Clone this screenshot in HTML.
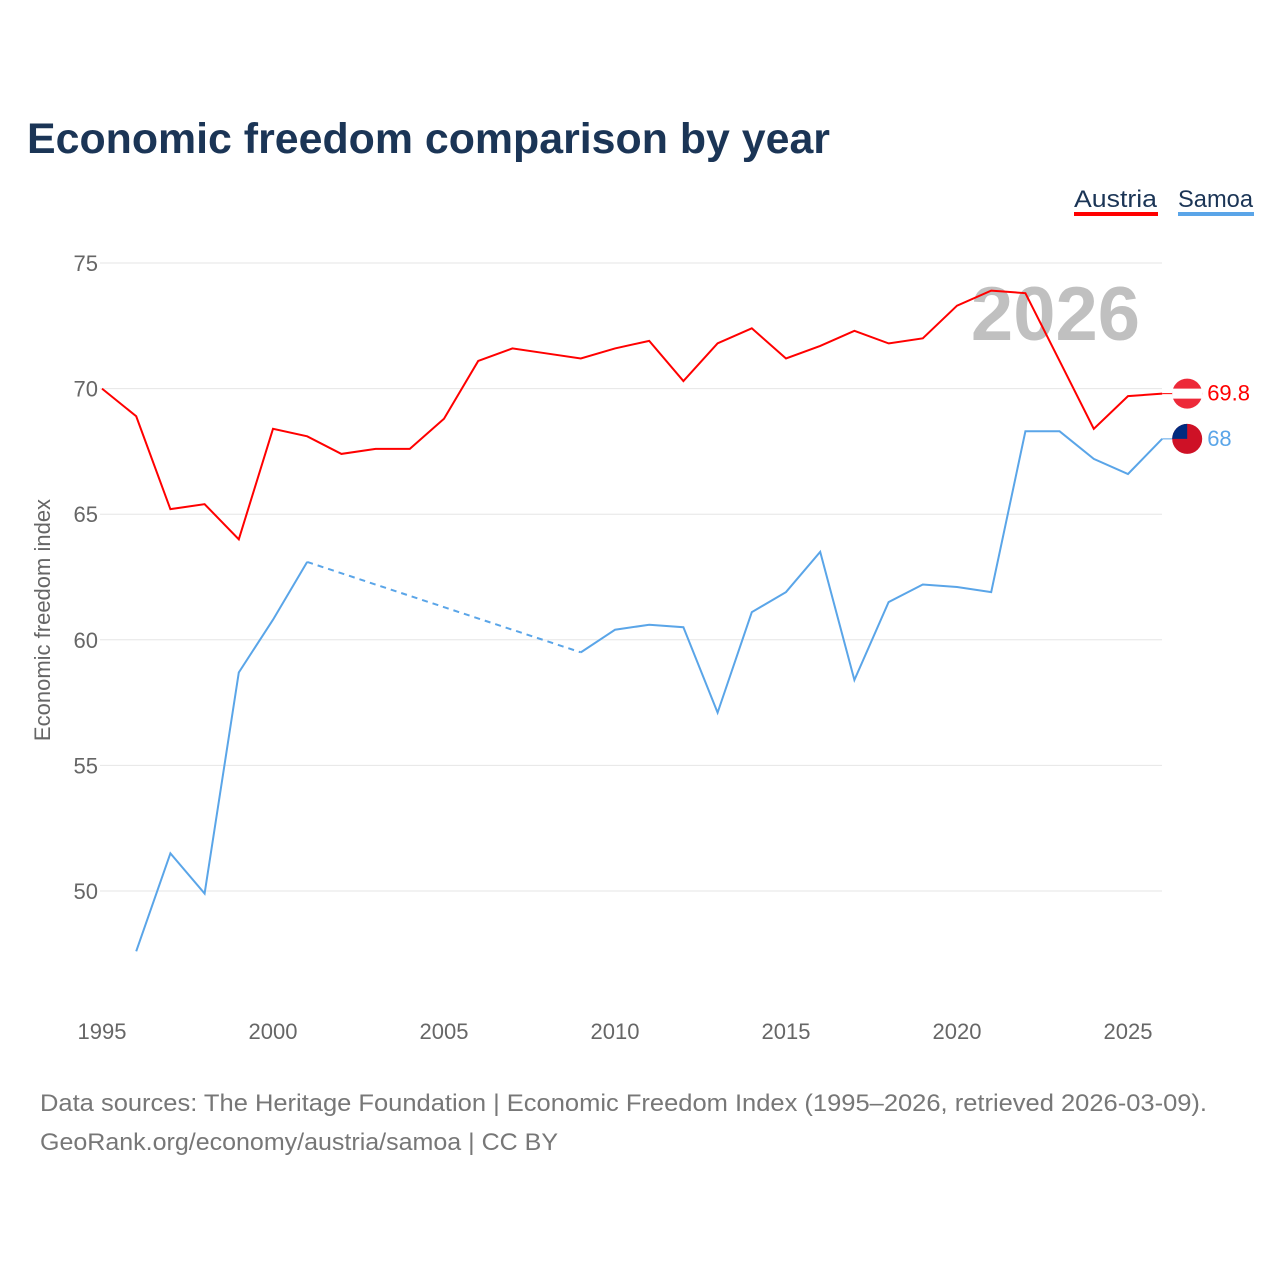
<!DOCTYPE html>
<html><head><meta charset="utf-8"><style>
body{margin:0;background:#fff;font-family:"Liberation Sans",sans-serif;}
svg text{font-family:"Liberation Sans",sans-serif;}
</style></head><body>
<svg width="1280" height="1280" viewBox="0 0 1280 1280">
<text x="27" y="153" font-size="43" font-weight="bold" fill="#1b3556" textLength="803" lengthAdjust="spacingAndGlyphs">Economic freedom comparison by year</text>
<g>
<text x="1074" y="207" font-size="24" fill="#1b3556" textLength="83" lengthAdjust="spacingAndGlyphs">Austria</text>
<rect x="1074" y="212" width="84" height="4" fill="#ff0000"/>
<text x="1178" y="207" font-size="24" fill="#1b3556" textLength="75" lengthAdjust="spacingAndGlyphs">Samoa</text>
<rect x="1178" y="212" width="76" height="4" fill="#5aa5e8"/>
</g>
<text x="1140" y="340" font-size="76" font-weight="bold" fill="#c0c0c0" text-anchor="end">2026</text>
<g id="grid"></g><g id="xt"></g><g id="lines"></g>
<text transform="translate(50,620) rotate(-90)" font-size="22" fill="#666" text-anchor="middle">Economic freedom index</text>
<text x="40" y="1111" font-size="24" fill="#777" textLength="1167" lengthAdjust="spacingAndGlyphs">Data sources: The Heritage Foundation | Economic Freedom Index (1995–2026, retrieved 2026-03-09).</text>
<text x="40" y="1150" font-size="24" fill="#777" textLength="518" lengthAdjust="spacingAndGlyphs">GeoRank.org/economy/austria/samoa | CC BY</text>
</svg>
<script>
const years=[1995,1996,1997,1998,1999,2000,2001,2002,2003,2004,2005,2006,2007,2008,2009,2010,2011,2012,2013,2014,2015,2016,2017,2018,2019,2020,2021,2022,2023,2024,2025,2026];
const austria=[70.0,68.9,65.2,65.4,64.0,68.4,68.1,67.4,67.6,67.6,68.8,71.1,71.6,71.4,71.2,71.6,71.9,70.3,71.8,72.4,71.2,71.7,72.3,71.8,72.0,73.3,73.9,73.8,71.1,68.4,69.7,69.8];
const samoa=[null,47.6,51.5,49.9,58.7,60.8,63.1,null,null,null,null,null,null,null,59.5,60.4,60.6,60.5,57.1,61.1,61.9,63.5,58.4,61.5,62.2,62.1,61.9,68.3,68.3,67.2,66.6,68.0];
const yTicks=[50,55,60,65,70,75];
const xTicks=[1995,2000,2005,2010,2015,2020,2025];
const NS="http://www.w3.org/2000/svg";
const X=y=>102+(y-1995)*34.2;
const Y=v=>891-(v-50)*25.12;
function mk(p,t,a){const e=document.createElementNS(NS,t);for(const k in a)e.setAttribute(k,a[k]);document.getElementById(p).appendChild(e);return e;}
yTicks.forEach(t=>{
 const l=mk('grid','line',{x1:100,x2:1162,y1:Y(t),y2:Y(t),stroke:'#e6e6e6','stroke-width':1});
 
 
 const tx=mk('grid','text',{x:98,y:Y(t)+8,'font-size':22,fill:'#666','text-anchor':'end'});
 tx.textContent=t;
 
 
});
xTicks.forEach(t=>{
 const tx=mk('xt','text',{x:X(t),y:1039,'font-size':22,fill:'#666','text-anchor':'middle'});
 tx.textContent=t;
 
 
});
function draw(vals,color,name){
 let segs=[],cur=[],last=null;
 vals.forEach((v,i)=>{
  if(v==null){if(cur.length){segs.push(cur);cur=[];}return;}
  if(last&&last.i<i-1&&!cur.length){const g=mk('lines','path',{d:`M${X(years[last.i])},${Y(last.v)}L${X(years[i])},${Y(v)}`,stroke:color,'stroke-width':2,fill:'none','stroke-dasharray':'6 5'});
   
   }
  cur.push([X(years[i]),Y(v)]);last={i,v};
 });
 if(cur.length)segs.push(cur);
 segs.forEach(s=>{const p=mk('lines','path',{d:'M'+s.map(q=>q.join(',')).join('L'),stroke:color,'stroke-width':2,fill:'none'});
  
  });
 const lv=vals[vals.length-1];
 const cx=X(2026)+25, cy=Y(lv);
 const ln=mk('lines','line',{x1:X(2026),x2:cx,y1:cy,y2:cy,stroke:color,'stroke-width':1});
 
 
 const c=mk('lines','circle',{cx:cx,cy:cy,r:15,fill:name=='austria'?'#ed2939':'#ce1126'});
 
 
 if(name=='austria'){const r=mk('lines','rect',{x:cx-15,y:cy-5,width:30,height:10,fill:'#fff'});}
 else{const r=mk('lines','path',{d:`M${cx-15},${cy}A15,15 0 0 1 ${cx},${cy-15}L${cx},${cy}Z`,fill:'#002b7f'});}
 const t=mk('lines','text',{x:cx+20,y:cy+7,'font-size':22,fill:color});
 t.textContent=lv;
 
 
}
draw(austria,'#ff0000','austria');
draw(samoa,'#5aa5e8','samoa');
</script>
</body></html>
